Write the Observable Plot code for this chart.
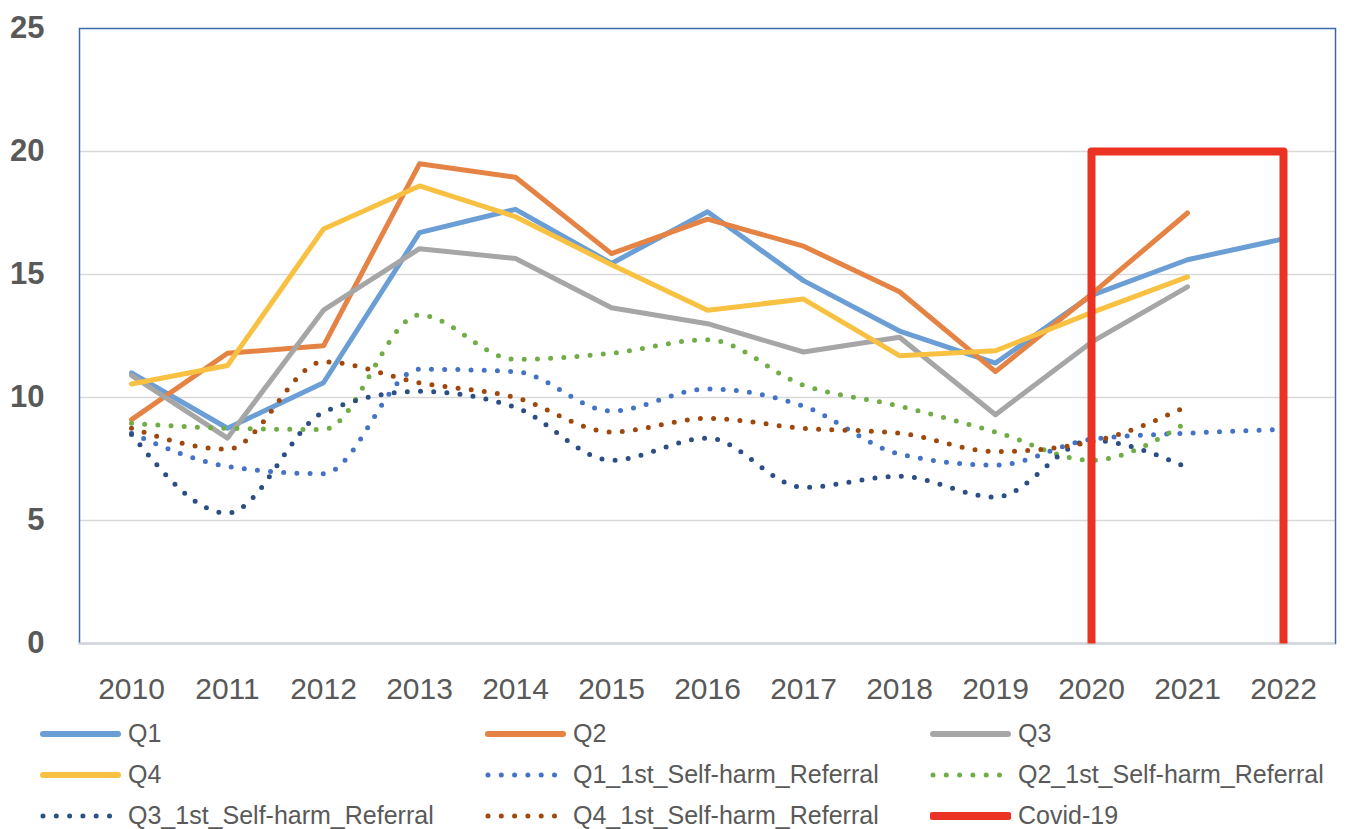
<!DOCTYPE html>
<html>
<head>
<meta charset="utf-8">
<script src="https://cdn.jsdelivr.net/npm/d3@7"></script>
<script src="https://cdn.jsdelivr.net/npm/@observablehq/plot@0.6"></script>
<style>
  html, body { margin: 0; padding: 0; background: #fff; }
  #wrap { width: 1346px; height: 829px; overflow: hidden; position: relative; font-family: "Liberation Sans", Arial, sans-serif; }
  #legend { display: grid; grid-template-columns: 445px 445px 416px; grid-auto-rows: 41px; padding-left: 40px; margin-top: 3px; }
  .item { display: flex; align-items: center; color: #595959; font-size: 25px; line-height: 1; white-space: nowrap; }
  .item svg { flex: none; margin-right: 7px; }
</style>
</head>
<body>
<div id="wrap"><div id="chart"></div><div id="legend"></div></div>
<script>
const years = [2010, 2011, 2012, 2013, 2014, 2015, 2016, 2017, 2018, 2019, 2020, 2021, 2022];
const q1 = [11.0, 8.75, 10.6, 16.7, 17.65, 15.45, 17.55, 14.75, 12.7, 11.4, 14.15, 15.6, 16.45];
const q2 = [9.1, 11.8, 12.1, 19.5, 18.95, 15.85, 17.25, 16.15, 14.3, 11.05, 14.2, 17.5, null];
const q3 = [10.9, 8.35, 13.55, 16.05, 15.65, 13.65, 13.0, 11.85, 12.45, 9.3, 12.25, 14.5, null];
const q4 = [10.55, 11.3, 16.85, 18.6, 17.35, 15.4, 13.55, 14.0, 11.7, 11.9, 13.45, 14.9, null];
const q1Ref = [8.55, 7.2, 6.9, 11.15, 11.05, 9.45, 10.35, 9.65, 7.7, 7.25, 8.3, 8.55, 8.7];
const q2Ref = [8.95, 8.75, 8.7, 13.35, 11.55, 11.8, 12.35, 10.5, 9.65, 8.6, 7.45, 9.0, null];
const q3Ref = [8.5, 5.3, 9.4, 10.25, 9.6, 7.45, 8.35, 6.35, 6.8, 5.95, 8.25, 7.15, null];
const q4Ref = [8.75, 7.9, 11.45, 10.6, 10.0, 8.6, 9.15, 8.75, 8.55, 7.8, 8.2, 9.65, null];
const covidYears = [2020, 2020, 2022, 2022];
const covidValues = [0, 20, 20, 0];
const yTicks = [0, 5, 10, 15, 20, 25];
const gridTicks = [5, 10, 15, 20];

const series = [
  {name: "Q1", values: q1, color: "#6A9ED5", dotted: false},
  {name: "Q2", values: q2, color: "#E58344", dotted: false},
  {name: "Q3", values: q3, color: "#A6A6A6", dotted: false},
  {name: "Q4", values: q4, color: "#F8C142", dotted: false},
  {name: "Q1_1st_Self-harm_Referral", values: q1Ref, color: "#4472C4", dotted: true},
  {name: "Q2_1st_Self-harm_Referral", values: q2Ref, color: "#70AD47", dotted: true},
  {name: "Q3_1st_Self-harm_Referral", values: q3Ref, color: "#2B4F85", dotted: true},
  {name: "Q4_1st_Self-harm_Referral", values: q4Ref, color: "#9E480E", dotted: true},
];
const covid = {name: "Covid-19", color: "#EA3323"};

const marks = [
  Plot.ruleY(gridTicks, {stroke: "#D9D9D9", strokeWidth: 1.5}),
  Plot.frame({stroke: "#3E68A8", strokeWidth: 1.5}),
  Plot.ruleY([0], {stroke: "#D9D9D9", strokeWidth: 2}),
];
for (const s of series) {
  marks.push(Plot.line(years, {
    x: years, y: s.values, stroke: s.color,
    strokeWidth: 5,
    strokeDasharray: s.dotted ? "0 13.2" : null,
    strokeLinecap: "round", strokeLinejoin: "round",
    curve: s.dotted ? "monotone-x" : "linear"
  }));
}
marks.push(Plot.line(covidYears, {x: covidYears, y: covidValues, stroke: covid.color, strokeWidth: 8, strokeLinecap: "butt", strokeLinejoin: "round"}));

const chart = Plot.plot({
  width: 1346, height: 710,
  marginLeft: 79, marginRight: 11, marginTop: 28, marginBottom: 67,
  style: {fontFamily: "'Liberation Sans', Arial, sans-serif", color: "#595959", background: "#fff"},
  x: {type: "point", domain: years, padding: 0.5, tickSize: 0, tickPadding: 34, tickFormat: d => String(d), label: null},
  y: {domain: [0, 25], ticks: yTicks, tickSize: 0, tickPadding: 35, label: null},
  marks: [
    ...marks,
    Plot.axisX({tickSize: 0, tickPadding: 34, fontSize: 30, tickFormat: d => String(d), label: null}),
    Plot.axisY({ticks: yTicks, tickSize: 0, tickPadding: 35, fontSize: 31, fontWeight: "bold", label: null})
  ]
});
document.getElementById("chart").appendChild(chart);

const legendOrder = [series[0], series[1], series[2], series[3], series[4], series[5], series[6], series[7], covid];
const legend = document.getElementById("legend");
for (const s of legendOrder) {
  const item = document.createElement("div");
  item.className = "item";
  const ns = "http://www.w3.org/2000/svg";
  const svg = document.createElementNS(ns, "svg");
  svg.setAttribute("width", 81); svg.setAttribute("height", 12);
  const ln = document.createElementNS(ns, "line");
  ln.setAttribute("y1", 6); ln.setAttribute("y2", 6);
  ln.setAttribute("stroke", s.color);
  ln.setAttribute("stroke-linecap", "round");
  if (s.dotted) {
    ln.setAttribute("x1", 3); ln.setAttribute("x2", 70);
    ln.setAttribute("stroke-width", 5);
    ln.setAttribute("stroke-dasharray", "0 13.3");
  } else {
    ln.setAttribute("x1", 3); ln.setAttribute("x2", 78);
    ln.setAttribute("stroke-width", s.name === "Covid-19" ? 8 : 6);
  }
  svg.appendChild(ln);
  item.appendChild(svg);
  const t = document.createElement("span");
  t.textContent = s.name;
  item.appendChild(t);
  legend.appendChild(item);
}
</script>
</body>
</html>
